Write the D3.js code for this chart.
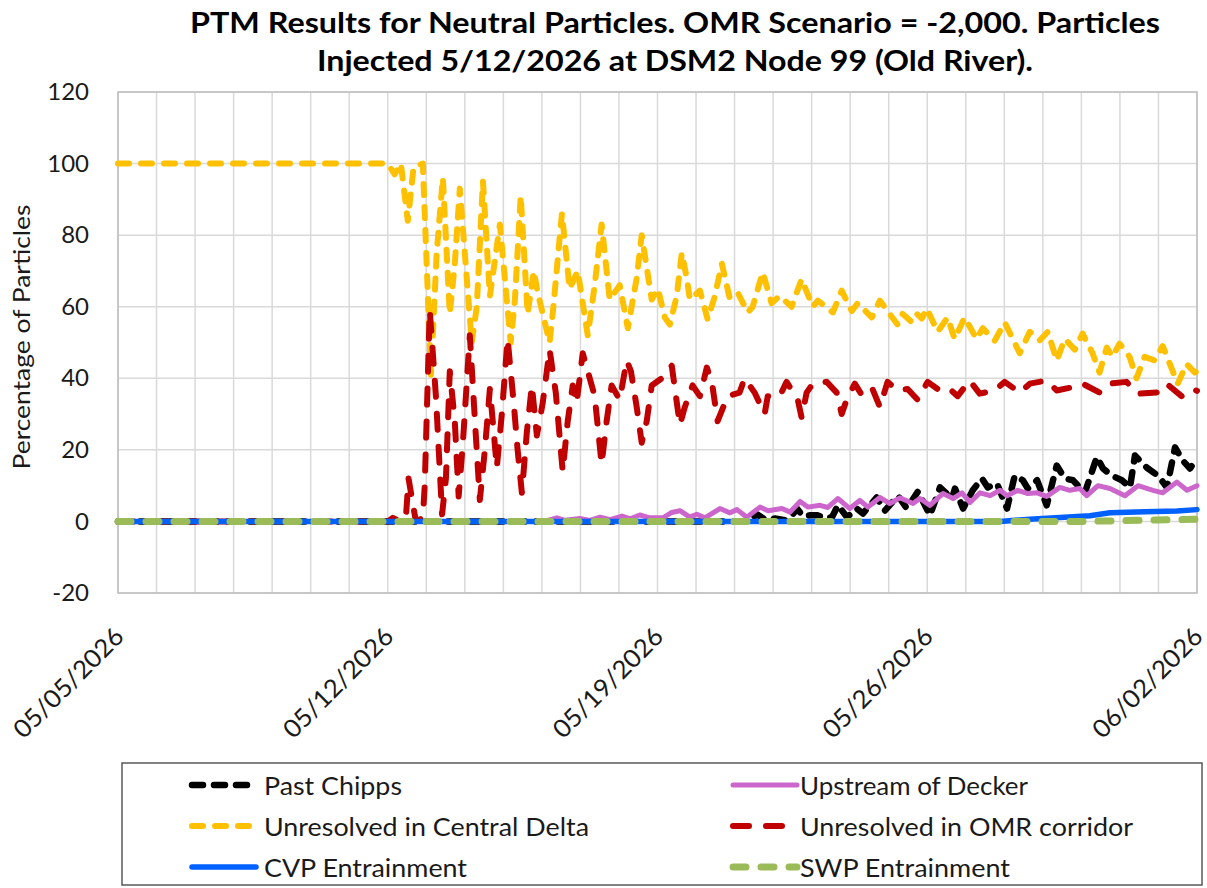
<!DOCTYPE html>
<html>
<head>
<meta charset="utf-8">
<script src="https://cdn.jsdelivr.net/npm/d3@7"></script>
<style>
  html, body { margin: 0; padding: 0; background: #fff; }
  svg { display: block; font-family: Lato, "Open Sans", "Liberation Sans", sans-serif; }
</style>
</head>
<body>
<svg id="chart" width="1207" height="888"></svg>
<script>
// ---------------- data ----------------
// Time is given as days after 05/05/2026 00:00; values are percentage of particles.
const titleLines = [
  "PTM Results for Neutral Particles. OMR Scenario = -2,000. Particles",
  "Injected 5/12/2026 at DSM2 Node 99 (Old River)."
];
const yAxisTitle = "Percentage of Particles";
const startLabel = "05/05/2026";
const xTickLabels = ["05/05/2026", "05/12/2026", "05/19/2026", "05/26/2026", "06/02/2026"];
const yTickValues = [-20, 0, 20, 40, 60, 80, 100, 120];

const seriesNames = [
  "Past Chipps",
  "Upstream of Decker",
  "Unresolved in Central Delta",
  "Unresolved in OMR corridor",
  "CVP Entrainment",
  "SWP Entrainment"
];

const chippsDay = [0, 16.14, 16.40, 16.58, 16.79, 17.05, 17.31, 17.49, 17.62, 17.77, 17.96, 18.16, 18.34, 18.53, 18.68, 18.92, 19.17, 19.33, 19.69, 19.90, 20.24, 20.47, 20.76, 21.07, 21.33, 21.64, 21.72, 21.93, 22.18, 22.42, 22.57, 22.81, 23.07, 23.27, 23.48, 23.61, 23.85, 24.10, 24.36, 24.57, 24.78, 25.09, 25.40, 25.56, 25.79, 26.05, 26.26, 26.39, 26.70, 26.99, 27.22, 27.43, 27.63, 27.82, 28.00];
const chippsPct = [0, 0, 0.3, 2, 0.5, 0.8, 0.3, 1.7, 3.6, 1.5, 1.7, 1.7, 0.8, 1.2, 4.5, 1.2, 3.6, 2.2, 6.7, 3, 7.2, 3.6, 8.4, 1.7, 9.5, 6.4, 9.2, 3.6, 8.7, 12, 9.5, 10.6, 3.6, 12.8, 11.5, 9.2, 11.5, 4.5, 15.6, 12, 11.5, 8, 18, 14.8, 12.8, 11.5, 9.5, 18.4, 15, 12.8, 9.5, 20.7, 17, 14.8, 17.6];

const deckerDay = [0, 10.94, 11.15, 11.39, 11.60, 11.99, 12.25, 12.51, 12.77, 13.08, 13.29, 13.54, 13.80, 14.14, 14.37, 14.58, 14.84, 15.02, 15.23, 15.62, 15.88, 16.06, 16.32, 16.66, 16.87, 17.23, 17.44, 17.70, 17.90, 18.22, 18.42, 18.68, 18.99, 19.25, 19.46, 19.77, 20.03, 20.29, 20.63, 20.81, 21.07, 21.41, 21.67, 21.90, 22.11, 22.37, 22.63, 22.89, 23.07, 23.35, 23.61, 23.85, 24.10, 24.44, 24.70, 24.96, 25.14, 25.43, 25.74, 26.13, 26.47, 26.86, 27.11, 27.48, 27.74, 28.00];
const deckerPct = [0, 0, 0.3, 1, 0.3, 0.8, 0.3, 1.2, 0.5, 1.5, 0.7, 1.8, 1, 1, 2.5, 3, 1.2, 2, 1, 3.6, 2.4, 3.3, 1.2, 4, 3, 3.6, 2.6, 5.6, 4, 4.5, 3.9, 6.4, 3.6, 5.9, 4, 6.7, 5, 6.6, 5, 6.4, 4.5, 7.8, 6.4, 8, 5.3, 8, 7.2, 8.7, 7.2, 8.7, 7.8, 8, 7, 9.5, 8.7, 9.2, 7.2, 10, 9.2, 7.2, 10, 8.7, 8, 11, 8.7, 10];

const centralDeltaDay = [0, 7.00, 7.18, 7.34, 7.52, 7.67, 7.91, 8.12, 8.27, 8.43, 8.61, 8.74, 8.87, 9.18, 9.31, 9.47, 9.65, 9.91, 10.19, 10.30, 10.45, 10.63, 10.79, 10.89, 11.20, 11.28, 11.52, 11.72, 11.93, 12.19, 12.37, 12.55, 12.76, 13.02, 13.23, 13.46, 13.59, 13.85, 14.01, 14.19, 14.32, 14.50, 14.63, 14.76, 14.84, 15.10, 15.30, 15.48, 15.67, 15.87, 16.08, 16.34, 16.47, 16.73, 16.96, 17.17, 17.48, 17.74, 18.03, 18.16, 18.55, 18.78, 19.04, 19.20, 19.56, 19.77, 20.23, 20.36, 20.60, 20.73, 20.86, 20.99, 21.27, 21.53, 21.71, 21.97, 22.28, 22.44, 22.75, 23.01, 23.40, 23.66, 23.92, 24.13, 24.36, 24.57, 24.83, 25.03, 25.29, 25.47, 25.66, 25.81, 25.99, 26.25, 26.43, 26.64, 26.90, 27.11, 27.37, 27.50, 27.73, 27.94, 28.00];
const centralDeltaPct = [100, 100, 97, 100, 84, 99, 100, 41, 75, 96, 58, 72, 93, 50, 60, 95, 63, 83, 50, 62, 91, 58, 70, 64, 50, 58, 86, 65, 70, 52, 66, 83, 62, 66, 54, 68, 80, 62, 65, 57, 55, 63, 75, 68, 62, 64.5, 56.5, 62.6, 72, 62.6, 64, 58.4, 60, 69.6, 61, 63, 60, 67.7, 60, 61.7, 58.4, 64.5, 58.8, 61, 57, 61.7, 55, 58, 55.7, 58, 56.7, 59.5, 53, 57, 51, 57, 51, 54, 50.5, 55.6, 47, 53, 50.6, 53, 45, 51, 48, 52.5, 47, 41.6, 48.6, 46, 49.7, 46, 40, 46, 45, 49, 42, 38.5, 44, 41.6, 42];

const omrDay = [0, 7.00, 7.13, 7.31, 7.47, 7.54, 7.65, 7.73, 7.91, 7.96, 8.09, 8.25, 8.41, 8.51, 8.61, 8.74, 8.84, 8.95, 9.13, 9.28, 9.39, 9.52, 9.65, 9.75, 9.83, 9.96, 10.11, 10.27, 10.37, 10.48, 10.61, 10.74, 10.87, 11.02, 11.20, 11.36, 11.54, 11.67, 11.80, 11.90, 12.06, 12.19, 12.37, 12.55, 12.68, 12.81, 13.02, 13.20, 13.31, 13.46, 13.59, 13.72, 13.85, 14.11, 14.37, 14.58, 14.71, 14.91, 15.10, 15.28, 15.41, 15.56, 15.82, 16.13, 16.26, 16.52, 16.78, 16.86, 17.17, 17.35, 17.64, 17.74, 17.87, 18.03, 18.39, 18.65, 18.78, 18.91, 19.12, 19.32, 19.58, 19.77, 19.97, 20.23, 20.49, 20.75, 21.01, 21.27, 21.53, 21.79, 22.10, 22.36, 22.75, 23.01, 23.40, 23.66, 24.10, 24.36, 24.77, 25.03, 25.47, 25.73, 26.17, 26.46, 26.95, 27.21, 27.60, 27.86, 28.00];
const omrPct = [0, 0, 1, 0, 1, 12, 5, 0, 1, 10, 59, 35, 2, 12, 42, 28, 7, 22, 52, 25, 6, 20, 37, 25, 15, 30, 51, 33, 20, 8, 25, 38, 24, 33, 48, 36, 14, 28, 38, 33, 47, 42, 35, 16, 28, 38, 34, 45, 42, 32, 22, 28, 38, 40, 43.5, 27, 32, 38, 35, 43, 39, 28, 35, 36, 40, 36, 30, 35, 35, 39, 34, 29, 36, 38.5, 39, 36, 30, 34, 38.5, 35, 37, 32, 39, 36.6, 37, 34, 39, 37, 37.5, 35, 39.4, 35.7, 36.6, 39, 36, 38.5, 39.4, 36.6, 37.5, 38.5, 36, 38.5, 39, 35.7, 36, 38.5, 35, 37, 36.5];

const cvpDay = [0, 22.89, 23.66, 24.44, 25.22, 25.74, 26.65, 27.48, 28.00];
const cvpPct = [0, 0, 0.6, 1.1, 1.6, 2.4, 2.7, 2.9, 3.3];

const swpDay = [0, 25.00, 26.50, 28.00];
const swpPct = [0, 0, 0.3, 0.6];

// ---------------- appearance ----------------
const seriesStyle = [
  { color: "#000000", width: 6.5, dash: "11,11" },
  { color: "#cc66cc", width: 5,   dash: null },
  { color: "#ffc000", width: 6,   dash: "11,12" },
  { color: "#c00000", width: 6,   dash: "16,17" },
  { color: "#0061ff", width: 5.5, dash: null },
  { color: "#9bbb59", width: 7,   dash: "13,15" }
];

const W = 1207, H = 888;
const plot = { left: 118, right: 1197, top: 92, bottom: 593 };

const parse = d3.utcParse("%m/%d/%Y");
const fmt = d3.utcFormat("%m/%d/%Y");
const t0 = parse(startLabel);
const toDate = d => new Date(t0.getTime() + d * 864e5);

const tickDates = xTickLabels.map(parse);
const x = d3.scaleUtc()
  .domain([tickDates[0], tickDates[tickDates.length - 1]])
  .range([plot.left, plot.right]);
const y = d3.scaleLinear()
  .domain([d3.min(yTickValues), d3.max(yTickValues)])
  .range([plot.bottom, plot.top]);

const svg = d3.select("#chart");
svg.append("rect").attr("width", W).attr("height", H).attr("fill", "#fff");

// gridlines: one vertical line per day, horizontal at every y tick
const grid = svg.append("g").attr("stroke", "#d9d9d9").attr("stroke-width", 1.5);
grid.selectAll("line.v")
  .data(d3.utcDay.range(x.domain()[0], d3.utcDay.offset(x.domain()[1], 1)))
  .join("line").attr("class", "v")
  .attr("x1", d => x(d)).attr("x2", d => x(d))
  .attr("y1", plot.top).attr("y2", plot.bottom);
grid.selectAll("line.h")
  .data(yTickValues)
  .join("line").attr("class", "h")
  .attr("x1", plot.left).attr("x2", plot.right)
  .attr("y1", d => y(d)).attr("y2", d => y(d));

// plot-area frame
svg.append("rect")
  .attr("x", plot.left).attr("y", plot.top)
  .attr("width", plot.right - plot.left).attr("height", plot.bottom - plot.top)
  .attr("fill", "none").attr("stroke", "#bfbfbf").attr("stroke-width", 1.5);

// y axis (plain hyphen for negatives)
const yAxis = svg.append("g")
  .attr("transform", `translate(${plot.left},0)`)
  .call(d3.axisLeft(y).tickValues(yTickValues).tickSize(0).tickPadding(29)
    .tickFormat(d => String(d)));
yAxis.select(".domain").remove();
yAxis.selectAll("text")
  .attr("font-family", "Lato, 'Open Sans', sans-serif")
  .attr("font-size", 24)
  .attr("fill", "#1a1a1a");

// x axis with slanted date labels
const xAxis = svg.append("g")
  .attr("transform", `translate(0,${plot.bottom})`)
  .call(d3.axisBottom(x).tickValues(tickDates).tickSize(0).tickFormat(fmt));
xAxis.select(".domain").remove();
xAxis.selectAll("text")
  .attr("font-family", "Lato, 'Open Sans', sans-serif")
  .attr("font-size", 25)
  .attr("fill", "#1a1a1a")
  .attr("x", 0).attr("y", 0).attr("dy", 0)
  .attr("text-anchor", "end")
  .attr("textLength", 144)
  .attr("lengthAdjust", "spacingAndGlyphs")
  .attr("transform", "translate(7,45) rotate(-45)");

// axis title
svg.append("text")
  .attr("transform", "translate(21,337) rotate(-90)")
  .attr("text-anchor", "middle")
  .attr("dominant-baseline", "central")
  .attr("font-size", 23)
  .attr("fill", "#1a1a1a")
  .attr("textLength", 265)
  .attr("lengthAdjust", "spacingAndGlyphs")
  .text(yAxisTitle);

// chart title
const titleWidths = [970, 716];
svg.append("g").selectAll("text")
  .data(titleLines)
  .join("text")
  .attr("x", 675)
  .attr("y", (d, i) => 33 + i * 38)
  .attr("text-anchor", "middle")
  .attr("font-size", 28)
  .attr("font-weight", "bold")
  .attr("fill", "#000")
  .attr("textLength", (d, i) => titleWidths[i])
  .attr("lengthAdjust", "spacingAndGlyphs")
  .text(d => d);

// series, drawn in legend order
const seriesData = [
  d3.zip(chippsDay, chippsPct),
  d3.zip(deckerDay, deckerPct),
  d3.zip(centralDeltaDay, centralDeltaPct),
  d3.zip(omrDay, omrPct),
  d3.zip(cvpDay, cvpPct),
  d3.zip(swpDay, swpPct)
];

const line = d3.line()
  .x(d => x(toDate(d[0])))
  .y(d => y(d[1]));

const lines = svg.append("g")
  .attr("fill", "none")
  .attr("stroke-linecap", "round")
  .attr("stroke-linejoin", "round");

seriesData.forEach((pts, i) => {
  const s = seriesStyle[i];
  lines.append("path")
    .datum(pts)
    .attr("d", line)
    .attr("stroke", s.color)
    .attr("stroke-width", s.width)
    .attr("stroke-dasharray", s.dash);
});

// legend
const legend = svg.append("g");
legend.append("rect")
  .attr("x", 122).attr("y", 763)
  .attr("width", 1080).attr("height", 122)
  .attr("fill", "#fff").attr("stroke", "#595959").attr("stroke-width", 1.5);

const legendCols = [{ lx: 192, tx: 264 }, { lx: 733, tx: 800 }];
const legendLabelWidths = [138, 228, 325, 333, 203, 210];
seriesNames.forEach((name, i) => {
  const col = legendCols[i % 2];
  const cy = 785 + Math.floor(i / 2) * 41;
  const s = seriesStyle[i];
  legend.append("line")
    .attr("x1", col.lx).attr("x2", col.lx + 64)
    .attr("y1", cy).attr("y2", cy)
    .attr("stroke", s.color).attr("stroke-width", s.width)
    .attr("stroke-linecap", "round")
    .attr("stroke-dasharray", s.dash);
  legend.append("text")
    .attr("x", col.tx).attr("y", cy)
    .attr("dominant-baseline", "central")
    .attr("font-size", 25)
    .attr("fill", "#1a1a1a")
    .attr("textLength", legendLabelWidths[i])
    .attr("lengthAdjust", "spacingAndGlyphs")
    .text(name);
});
</script>
</body>
</html>
